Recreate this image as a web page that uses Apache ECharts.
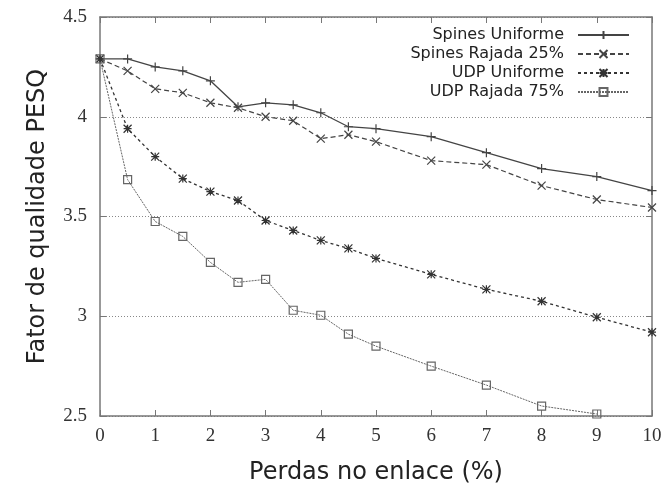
<!DOCTYPE html>
<html>
<head>
<meta charset="utf-8">
<script src="https://cdn.jsdelivr.net/npm/echarts@6/dist/echarts.min.js"></script>
<style>
  html, body { margin: 0; padding: 0; background: #fff; }
  #chart-container { width: 667px; height: 486px; }
</style>
</head>
<body>
<div id="chart-container"></div>
<script>
// perdas no enlace (%)
const perdas = [0, 0.5, 1, 1.5, 2, 2.5, 3, 3.5, 4, 4.5, 5, 6, 7, 8, 9, 10];

const spinesUniforme = [4.29, 4.29, 4.25, 4.23, 4.18, 4.05, 4.07, 4.06, 4.02, 3.95, 3.94, 3.90, 3.82, 3.74, 3.70, 3.63];
const spinesRajada   = [4.29, 4.23, 4.14, 4.12, 4.07, 4.045, 4.00, 3.98, 3.89, 3.91, 3.875, 3.78, 3.76, 3.655, 3.585, 3.545];
const udpUniforme    = [4.29, 3.94, 3.80, 3.69, 3.625, 3.58, 3.48, 3.43, 3.38, 3.34, 3.29, 3.21, 3.135, 3.075, 2.995, 2.92];
const udpRajada      = [4.29, 3.685, 3.475, 3.40, 3.27, 3.17, 3.185, 3.03, 3.005, 2.91, 2.85, 2.75, 2.655, 2.55, 2.51, null];

const seriesNames = ['Spines Uniforme', 'Spines Rajada 25%', 'UDP Uniforme', 'UDP Rajada 75%'];

const plusPath = 'path://M5,0L5,10M0,5L10,5';
const crossPath = 'path://M0,0L10,10M10,0L0,10';
const starPath = 'path://M0,0L10,10M10,0L0,10M5,0L5,10M0,5L10,5';

function pairs(ys) {
    return perdas.map((x, i) => [x, ys[i]]).filter(p => p[1] !== null);
}

const chartDom = document.getElementById('chart-container');
const myChart = echarts.init(chartDom, null, { renderer: 'canvas' });

const axisGray = '#777';
const serif = '"Liberation Serif", "DejaVu Serif", serif';
const sans = '"DejaVu Sans", Verdana, sans-serif';

function xAx(pos, labels) {
    return {
        type: 'value', position: pos, min: 0, max: 10, interval: 1,
        name: labels ? 'Perdas no enlace (%)' : '',
        nameLocation: 'middle', nameGap: 45,
        nameTextStyle: { fontFamily: sans, fontSize: 24, color: '#222' },
        axisLine: { show: true, onZero: false, lineStyle: { color: axisGray, width: 1.5 } },
        axisTick: { show: true, inside: true, length: 6, lineStyle: { color: axisGray } },
        axisLabel: { show: labels, margin: 11, fontFamily: serif, fontSize: 19, color: '#333' },
        splitLine: { show: false }
    };
}

function yAx(pos, labels) {
    return {
        type: 'value', position: pos, min: 2.5, max: 4.5, interval: 0.5,
        name: labels ? 'Fator de qualidade PESQ' : '',
        nameLocation: 'middle', nameGap: 50,
        nameTextStyle: { fontFamily: sans, fontSize: 24, color: '#222' },
        axisLine: { show: true, onZero: false, lineStyle: { color: axisGray, width: 1.5 } },
        axisTick: { show: true, inside: true, length: 6, lineStyle: { color: axisGray } },
        axisLabel: { show: labels, margin: 13, fontFamily: serif, fontSize: 19, color: '#333' },
        splitLine: { show: labels, lineStyle: { color: '#888', type: [1, 2], width: 1 } }
    };
}

function line(name, ys, symbol, size, dash, color, width) {
    return {
        name: name, type: 'line', data: pairs(ys),
        symbol: symbol, symbolSize: size, clip: false,
        lineStyle: { color: color, width: width, type: dash },
        itemStyle: { color: 'transparent', borderColor: color, borderWidth: 1.2 },
        emphasis: { disabled: true },
        animation: false
    };
}

const option = {
    backgroundColor: '#fff',
    animation: false,
    grid: { left: 100, right: 15, top: 17, bottom: 70, containLabel: false, outerBoundsMode: 'none' },
    legend: {
        orient: 'vertical', align: 'right',
        right: 37, top: 27, padding: 0,
        itemWidth: 51, itemHeight: 10, itemGap: 3,
        data: seriesNames,
        textStyle: { fontFamily: sans, fontSize: 16, lineHeight: 16, color: '#222', padding: [0, 9, 0, 0] }
    },
    xAxis: [xAx('bottom', true), xAx('top', false)],
    yAxis: [yAx('left', true), yAx('right', false)],
    series: [
        line(seriesNames[0], spinesUniforme, plusPath, 9, 'solid', '#444', 1.3),
        line(seriesNames[1], spinesRajada, crossPath, 8, [5, 3], '#444', 1.2),
        line(seriesNames[2], udpUniforme, starPath, 8, [3, 3], '#333', 1.3),
        line(seriesNames[3], udpRajada, 'rect', 8, [2, 1], '#666', 1)
    ]
};

myChart.setOption(option);
</script>
</body>
</html>
